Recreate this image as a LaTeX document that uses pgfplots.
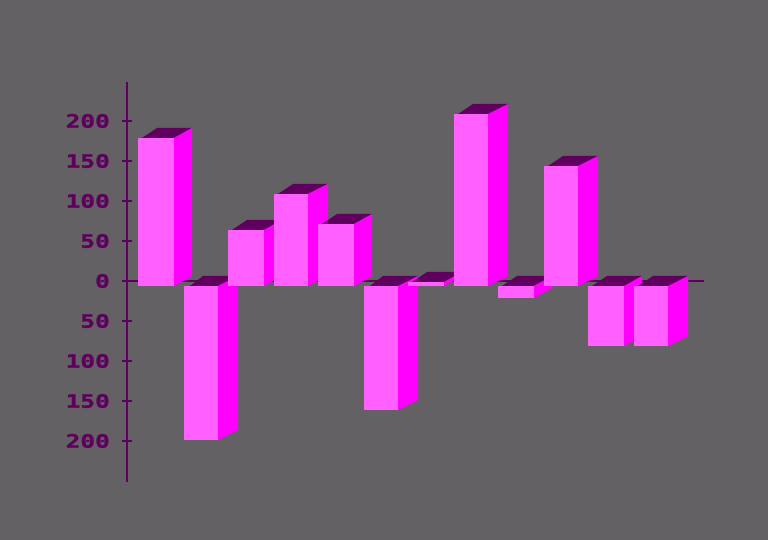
\documentclass[border=0pt]{standalone}
\usepackage{fontspec}
\usepackage{pgfplots}
\pgfplotsset{compat=1.18}
\newfontfamily\lab[FakeStretch=1.32,FakeBold=1.2]{DejaVu Sans Mono Bold}
\definecolor{bg}{HTML}{636163}
\definecolor{dk}{HTML}{5F005F}
\definecolor{lt}{HTML}{FF60FF}
\definecolor{md}{HTML}{FF00FF}
% x0, top-face left, back left, x1, back right, front top, back top, front bottom, back bottom
\newcommand\threebar[9]{%
  \addplot[draw=none,fill=dk] coordinates {(#2,#6) (#3,#7) (#5,#7) (#4,#6)} -- cycle;
  \addplot[draw=none,fill=md] coordinates {(#4,#6) (#5,#7) (#5,#9) (#4,#8)} -- cycle;
  \addplot[draw=none,fill=lt] coordinates {(#1,#6) (#4,#6) (#4,#8) (#1,#8)} -- cycle;
}
\begin{document}
\begin{tikzpicture}[x=1pt,y=1pt]
\fill[bg] (-127pt,-58pt) rectangle (641pt,482pt);
\begin{axis}[
  at={(0pt,0pt)},anchor=south west,
  scale only axis,width=577pt,height=400pt,
  xmin=127,xmax=704,ymin=-251.25,ymax=248.75,
  axis y line=left,axis x line=middle,
  axis line style={-,draw=dk,line width=2.4pt},
  xtick=\empty,
  ytick={-200,-150,-100,-50,0,50,100,150,200},
  yticklabels={200,150,100,50,0,50,100,150,200},
  tick align=center,major tick length=10pt,
  tick style={draw=dk,line width=2.4pt},
  yticklabel style={font=\lab\fontsize{18.5}{18.5}\selectfont,text=dk,anchor=east,xshift=-12pt,inner sep=0pt},
  clip=false,
]
\threebar{138}{142}{157}{174}{192}{178.75}{191.25}{-6.25}{6.25}
\threebar{184}{190}{203}{218}{238}{-6.25}{6.25}{-198.75}{-186.25}
\threebar{228}{232}{247}{264}{282}{63.75}{76.25}{-6.25}{6.25}
\threebar{274}{278}{293}{308}{328}{108.75}{121.25}{-6.25}{6.25}
\threebar{318}{322}{337}{354}{372}{71.25}{83.75}{-6.25}{6.25}
\threebar{364}{370}{383}{398}{418}{-6.25}{6.25}{-161.25}{-148.75}
\threebar{408}{412}{427}{444}{462}{-1.25}{11.25}{-6.25}{6.25}
\threebar{454}{458}{473}{488}{508}{208.75}{221.25}{-6.25}{6.25}
\threebar{498}{502}{517}{534}{552}{-6.25}{6.25}{-21.25}{-8.75}
\threebar{544}{548}{563}{578}{598}{143.75}{156.25}{-6.25}{6.25}
\threebar{588}{592}{607}{624}{642}{-6.25}{6.25}{-81.25}{-68.75}
\threebar{634}{638}{653}{668}{688}{-6.25}{6.25}{-81.25}{-68.75}
\end{axis}
\end{tikzpicture}
\end{document}
